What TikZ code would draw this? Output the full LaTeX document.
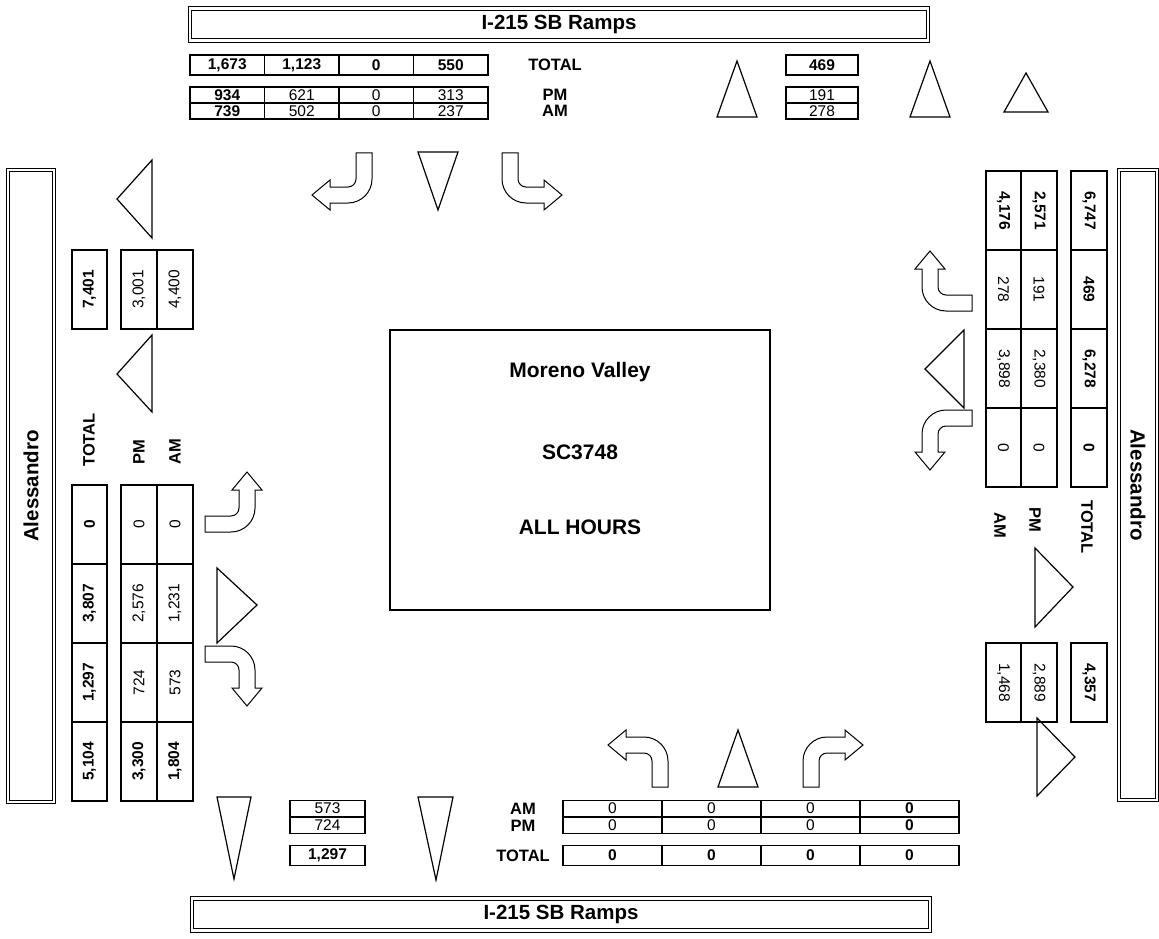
\documentclass[tikz,border=0pt]{standalone}
\usepackage{fontspec}
\setmainfont{Liberation Sans}
\usepackage{tikz}

\tikzset{
  cell/.style={draw, line width=1.8pt, inner sep=0pt, minimum width=74.5pt, minimum height=16pt,
    font=\fontsize{15.5}{15.5}\selectfont},
  bf/.style={font=\fontsize{15.5}{15.5}\selectfont\bfseries},
  tcell/.style={cell, bf, minimum height=20pt},
  vcell/.style={cell, minimum width=79pt, minimum height=35.5pt},
  wcell/.style={vcell, rotate=90},
  ecell/.style={vcell, rotate=-90},
  lbl/.style={inner sep=0pt, font=\fontsize{16.5}{16.5}\selectfont\bfseries},
  bar/.style={draw, double, double distance=2.2pt, line width=1.3pt, inner sep=0pt,
    font=\fontsize{20.5}{20.5}\selectfont\bfseries},
  ctext/.style={inner sep=0pt, font=\fontsize{21}{21}\selectfont\bfseries},
  tri/.style={line width=1.2pt, line join=miter},
  turn/.style={line width=1pt, line join=miter},
}
% bent arrow, stem from (0,0) downwards, turning right
\newcommand{\turnarrow}[1]{%
  \draw[turn, #1] (0,0) -- (0,26) arc[start angle=180, end angle=90, radius=24]
    -- (42,50) -- (42,57) -- (60,42) -- (42,27) -- (42,34) -- (24,34)
    arc[start angle=90, end angle=180, radius=8] -- (16,0) -- cycle;}

\begin{document}
\begin{tikzpicture}[x=1pt, y=-1pt]
  \useasboundingbox (0,0) rectangle (1159,939);

  % street bars
  \node[bar, minimum width=738pt, minimum height=32pt] (nbar) at (559,24.5) {I-215 SB Ramps};
  \node[bar, minimum width=738pt, minimum height=32pt] (sbar) at (561,914.5) {I-215 SB Ramps};
  \node[bar, rotate=90, minimum width=632pt, minimum height=46pt] (wbar) at (31,486) {Alessandro};
  \node[bar, rotate=-90, minimum width=630pt, minimum height=38pt] (ebar) at (1138,485) {Alessandro};

  % intersection
  \node[draw, line width=2.6pt, minimum width=380pt, minimum height=280pt] (site) at (580,470) {};
  \node[ctext] (city) at (580,372) {Moreno Valley};
  \node[ctext] (scid) at (580,452) {SC3748};
  \node[ctext] (hrs) at (580,527) {ALL HOURS};

  % north leg
  \foreach \i/\v in {0/{1,673},1/{1,123},2/0,3/550}
    \node[tcell] (nt\i) at ({227.25+74.5*\i},65) {\v};
  \node[cell, bf] (np0) at (227.25,95) {934};
  \node[cell, bf] (na0) at (227.25,111) {739};
  \foreach \i/\p/\a in {1/621/502,2/0/0,3/313/237} {
    \node[cell] (np\i) at ({227.25+74.5*\i},95) {\p};
    \node[cell] (na\i) at ({227.25+74.5*\i},111) {\a};
  }
  \node[lbl] (ntl) at (555,65) {TOTAL};
  \node[lbl] (npl) at (555,95) {PM};
  \node[lbl] (nal) at (555,111) {AM};
  \node[tcell, minimum width=72pt] (nrt) at (822,65) {469};
  \node[cell, minimum width=72pt] (nrp) at (822,95) {191};
  \node[cell, minimum width=72pt] (nra) at (822,111) {278};

  \draw[tri] (737,61) -- (717,117) -- (757,117) -- cycle;
  \draw[tri] (930,61) -- (910,117) -- (950,117) -- cycle;
  \draw[tri] (1026,73) -- (1004,112) -- (1048,112) -- cycle;
  \draw[tri] (418,152) -- (458,152) -- (438,210) -- cycle;
  \turnarrow{shift={(372,153)}, xscale=-1}
  \turnarrow{shift={(502,153)}}

  % west leg
  \node[wcell, bf] (wt5) at (89.5,289.5) {7,401};
  \node[wcell] (wp5) at (139,289.5) {3,001};
  \node[wcell] (wa5) at (175,289.5) {4,400};
  \foreach \i/\t/\p/\a in {0/0/0/0,1/{3,807}/{2,576}/{1,231},2/{1,297}/724/573} {
    \node[wcell, bf] (wt\i) at (89.5,{524.5+79*\i}) {\t};
    \node[wcell] (wp\i) at (139,{524.5+79*\i}) {\p};
    \node[wcell] (wa\i) at (175,{524.5+79*\i}) {\a};
  }
  \node[wcell, bf] (wt3) at (89.5,761.5) {5,104};
  \node[wcell, bf] (wp3) at (139,761.5) {3,300};
  \node[wcell, bf] (wa3) at (175,761.5) {1,804};
  \node[lbl, rotate=90] (wtl) at (89,440) {TOTAL};
  \node[lbl, rotate=90] (wpl) at (139,452) {PM};
  \node[lbl, rotate=90] (wal) at (175,452) {AM};

  \draw[tri] (117,199) -- (152,160) -- (152,238) -- cycle;
  \draw[tri] (117,374) -- (152,335) -- (152,412) -- cycle;
  \draw[tri] (217,568) -- (257,605) -- (217,643) -- cycle;
  \turnarrow{shift={(205,532)}, rotate=90}
  \turnarrow{shift={(205,646)}, rotate=90, xscale=-1}

  % east leg
  \foreach \i/\a/\p/\t in {1/278/191/469,2/{3,898}/{2,380}/{6,278},3/0/0/0} {
    \node[ecell] (ea\i) at (1003.5,{210.5+79*\i}) {\a};
    \node[ecell] (ep\i) at (1039,{210.5+79*\i}) {\p};
    \node[ecell, bf] (et\i) at (1089,{210.5+79*\i}) {\t};
  }
  \node[ecell, bf] (ea0) at (1003.5,210.5) {4,176};
  \node[ecell, bf] (ep0) at (1039,210.5) {2,571};
  \node[ecell, bf] (et0) at (1089,210.5) {6,747};
  \node[ecell] (ea5) at (1003.5,682.5) {1,468};
  \node[ecell] (ep5) at (1039,682.5) {2,889};
  \node[ecell, bf] (et5) at (1089,682.5) {4,357};
  \node[lbl, rotate=-90] (eal) at (1000,525) {AM};
  \node[lbl, rotate=-90] (epl) at (1035,520) {PM};
  \node[lbl, rotate=-90] (etl) at (1087,527) {TOTAL};

  \draw[tri] (925,369) -- (964,330) -- (964,408) -- cycle;
  \draw[tri] (1035,548) -- (1073,587) -- (1035,627) -- cycle;
  \draw[tri] (1037,718) -- (1075,757) -- (1037,796) -- cycle;
  \turnarrow{shift={(972,311)}, rotate=-90, xscale=-1}
  \turnarrow{shift={(972,410)}, rotate=-90}

  % south leg
  \node[cell, minimum width=75pt] (sa5) at (327.5,808.5) {573};
  \node[cell, minimum width=75pt] (sp5) at (327.5,825.5) {724};
  \node[tcell, minimum width=75pt] (st5) at (327.5,855.5) {1,297};
  \node[lbl] (sal) at (523,808.5) {AM};
  \node[lbl] (spl) at (523,825.5) {PM};
  \node[lbl] (stl) at (523,855.5) {TOTAL};
  \foreach \i in {0,1,2} {
    \node[cell, minimum width=99pt] (sa\i) at ({612.5+99*\i},808.5) {0};
    \node[cell, minimum width=99pt] (sp\i) at ({612.5+99*\i},825.5) {0};
    \node[tcell, minimum width=99pt] (st\i) at ({612.5+99*\i},855.5) {0};
  }
  \node[cell, bf, minimum width=99pt] (sa3) at (909.5,808.5) {0};
  \node[cell, bf, minimum width=99pt] (sp3) at (909.5,825.5) {0};
  \node[tcell, minimum width=99pt] (st3) at (909.5,855.5) {0};

  \draw[tri] (217,797) -- (251,797) -- (234,879) -- cycle;
  \draw[tri] (418,797) -- (453,797) -- (436,880) -- cycle;
  \draw[tri] (738,730) -- (718,787) -- (758,787) -- cycle;
  \turnarrow{shift={(668,787)}, yscale=-1, xscale=-1}
  \turnarrow{shift={(803,787)}, yscale=-1}
\end{tikzpicture}
\end{document}
